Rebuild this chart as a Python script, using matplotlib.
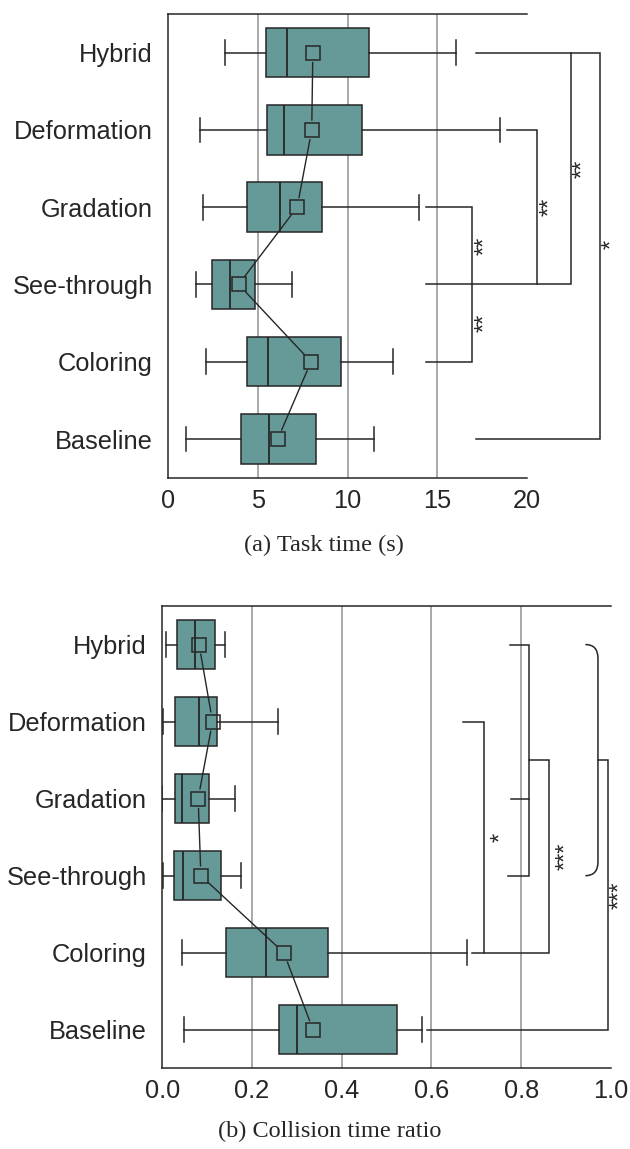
import matplotlib
matplotlib.use("Agg")
import matplotlib.pyplot as plt
from matplotlib.path import Path
from matplotlib.patches import PathPatch

INK = "#262626"
GRID = "#9A9A9A"
TEAL = "#669A98"
SERIF = ["Liberation Serif", "DejaVu Serif"]

plt.rcParams.update({
    "font.family": ["Liberation Sans", "DejaVu Sans"],
    "font.size": 18.3,
    "text.color": INK,
    "xtick.color": INK, "ytick.color": INK,
    "axes.edgecolor": INK, "axes.linewidth": 1.1,
})

conditions = ["Baseline", "Coloring", "See-through", "Gradation", "Deformation", "Hybrid"]

# task time (s): whisker low, q1, median, q3, whisker high, mean
time_lo = [1.02, 2.13, 1.58, 1.96, 1.76, 3.15]
time_q1 = [4.07, 4.37, 2.43, 4.37, 5.50, 5.47]
time_med = [5.63, 5.59, 3.44, 6.22, 6.46, 6.61]
time_q3 = [8.22, 9.65, 4.83, 8.58, 10.82, 11.20]
time_hi = [11.46, 12.50, 6.91, 13.98, 18.48, 16.04]
time_mean = [6.11, 7.96, 3.93, 7.19, 8.00, 8.06]

# collision time ratio
coll_lo = [0.049, 0.044, 0.002, 0.000, 0.002, 0.008]
coll_q1 = [0.261, 0.143, 0.025, 0.029, 0.029, 0.032]
coll_med = [0.300, 0.232, 0.047, 0.044, 0.081, 0.073]
coll_q3 = [0.522, 0.369, 0.130, 0.104, 0.121, 0.118]
coll_hi = [0.578, 0.680, 0.175, 0.163, 0.259, 0.140]
coll_mean = [0.336, 0.271, 0.086, 0.080, 0.112, 0.082]


def boxes(ax, lo, q1, med, q3, hi, mean):
    stats = [dict(whislo=a, q1=b, med=c, q3=d, whishi=e, fliers=[])
             for a, b, c, d, e in zip(lo, q1, med, q3, hi)]
    ax.bxp(stats, positions=range(len(stats)), orientation="horizontal",
           widths=0.64, patch_artist=True, showfliers=False,
           boxprops=dict(facecolor=TEAL, edgecolor=INK, lw=1.1),
           medianprops=dict(color=INK, lw=1.3),
           whiskerprops=dict(color=INK, lw=1.1),
           capprops=dict(color=INK, lw=1.1), capwidths=0.32)
    # mean markers joined from one condition to the next
    for i in range(len(mean) - 1):
        ax.annotate("", xy=(mean[i], i), xytext=(mean[i + 1], i + 1),
                    arrowprops=dict(arrowstyle="-", color=INK, lw=1.0,
                                    shrinkA=7, shrinkB=7))
    ax.plot(mean, range(len(mean)), ls="none", marker="s", ms=10.5,
            mfc="none", mec=INK, mew=1.1, zorder=5)


def bracket(ax, pts):
    xs, ys = zip(*pts)
    ax.plot(xs, ys, color=INK, lw=1.1, clip_on=False, solid_joinstyle="miter")


def stars(ax, x, y, s):
    # asterisks sit high in the em box, so nudge the rotated text right
    ax.annotate(s, (x, y), xytext=(2.5, 0), textcoords="offset points",
                rotation=90, ha="center", va="center", fontsize=17,
                annotation_clip=False, color=INK)


def frame(ax, xmax, ticks, ticklabels):
    ax.set_ylim(-0.5, 5.5)
    ax.set_xlim(0, xmax)
    ax.set_yticks(range(6), conditions)
    ax.set_xticks(ticks, ticklabels)
    ax.tick_params(length=0)
    ax.tick_params(axis="y", pad=11)
    ax.tick_params(axis="x", pad=8)
    ax.spines["right"].set_visible(False)
    for t in ticks[1:-1]:
        ax.axvline(t, color=GRID, lw=1.2, zorder=0)


fig = plt.figure(figsize=(6.3, 11.49), dpi=100)

# (a) task time
ax1 = fig.add_axes([0.2667, 0.5843, 0.5703, 0.4035])
boxes(ax1, time_lo, time_q1, time_med, time_q3, time_hi, time_mean)
frame(ax1, 20, [0, 5, 10, 15, 20], ["0", "5", "10", "15", "20"])
bracket(ax1, [(14.37, 3), (16.91, 3), (16.91, 1), (14.37, 1)])
bracket(ax1, [(18.89, 4), (20.52, 4), (20.52, 2)])
bracket(ax1, [(14.37, 2), (22.41, 2), (22.41, 5)])
bracket(ax1, [(17.13, 5), (24.07, 5), (24.07, 0), (17.13, 0)])
stars(ax1, 17.45, 2.5, "**")
stars(ax1, 17.45, 1.5, "**")
stars(ax1, 21.06, 3.0, "**")
stars(ax1, 22.91, 3.5, "**")
stars(ax1, 24.55, 2.52, "*")
fig.text(0.5143, 0.5257, "(a) Task time (s)", ha="center", va="center",
         fontsize=17.5, fontfamily=SERIF)

# (b) collision time ratio
ax2 = fig.add_axes([0.2576, 0.0702, 0.7122, 0.4024])
boxes(ax2, coll_lo, coll_q1, coll_med, coll_q3, coll_hi, coll_mean)
frame(ax2, 1.0, [0.0, 0.2, 0.4, 0.6, 0.8, 1.0],
      ["0.0", "0.2", "0.4", "0.6", "0.8", "1.0"])
bracket(ax2, [(0.671, 4), (0.716, 4), (0.716, 1)])
bracket(ax2, [(0.691, 1), (0.862, 1), (0.862, 3.5), (0.818, 3.5)])
bracket(ax2, [(0.775, 5), (0.818, 5), (0.818, 2), (0.771, 2)])
bracket(ax2, [(0.777, 3), (0.818, 3)])
# rounded group bracket for Hybrid .. See-through
brace = Path([(0.943, 5), (0.971, 5), (0.971, 4.82), (0.971, 2.18),
              (0.971, 2), (0.943, 2)],
             [Path.MOVETO, Path.CURVE3, Path.CURVE3, Path.LINETO,
              Path.CURVE3, Path.CURVE3])
ax2.add_patch(PathPatch(brace, fill=False, edgecolor=INK, lw=1.1, clip_on=False))
bracket(ax2, [(0.971, 3.5), (0.993, 3.5), (0.993, 0), (0.590, 0)])
stars(ax2, 0.747, 2.5, "*")
stars(ax2, 0.892, 2.25, "***")
stars(ax2, 1.012, 1.74, "***")
fig.text(0.5238, 0.015, "(b) Collision time ratio", ha="center", va="center",
         fontsize=17.5, fontfamily=SERIF)

fig.savefig("out.png", dpi=100, facecolor="white")
